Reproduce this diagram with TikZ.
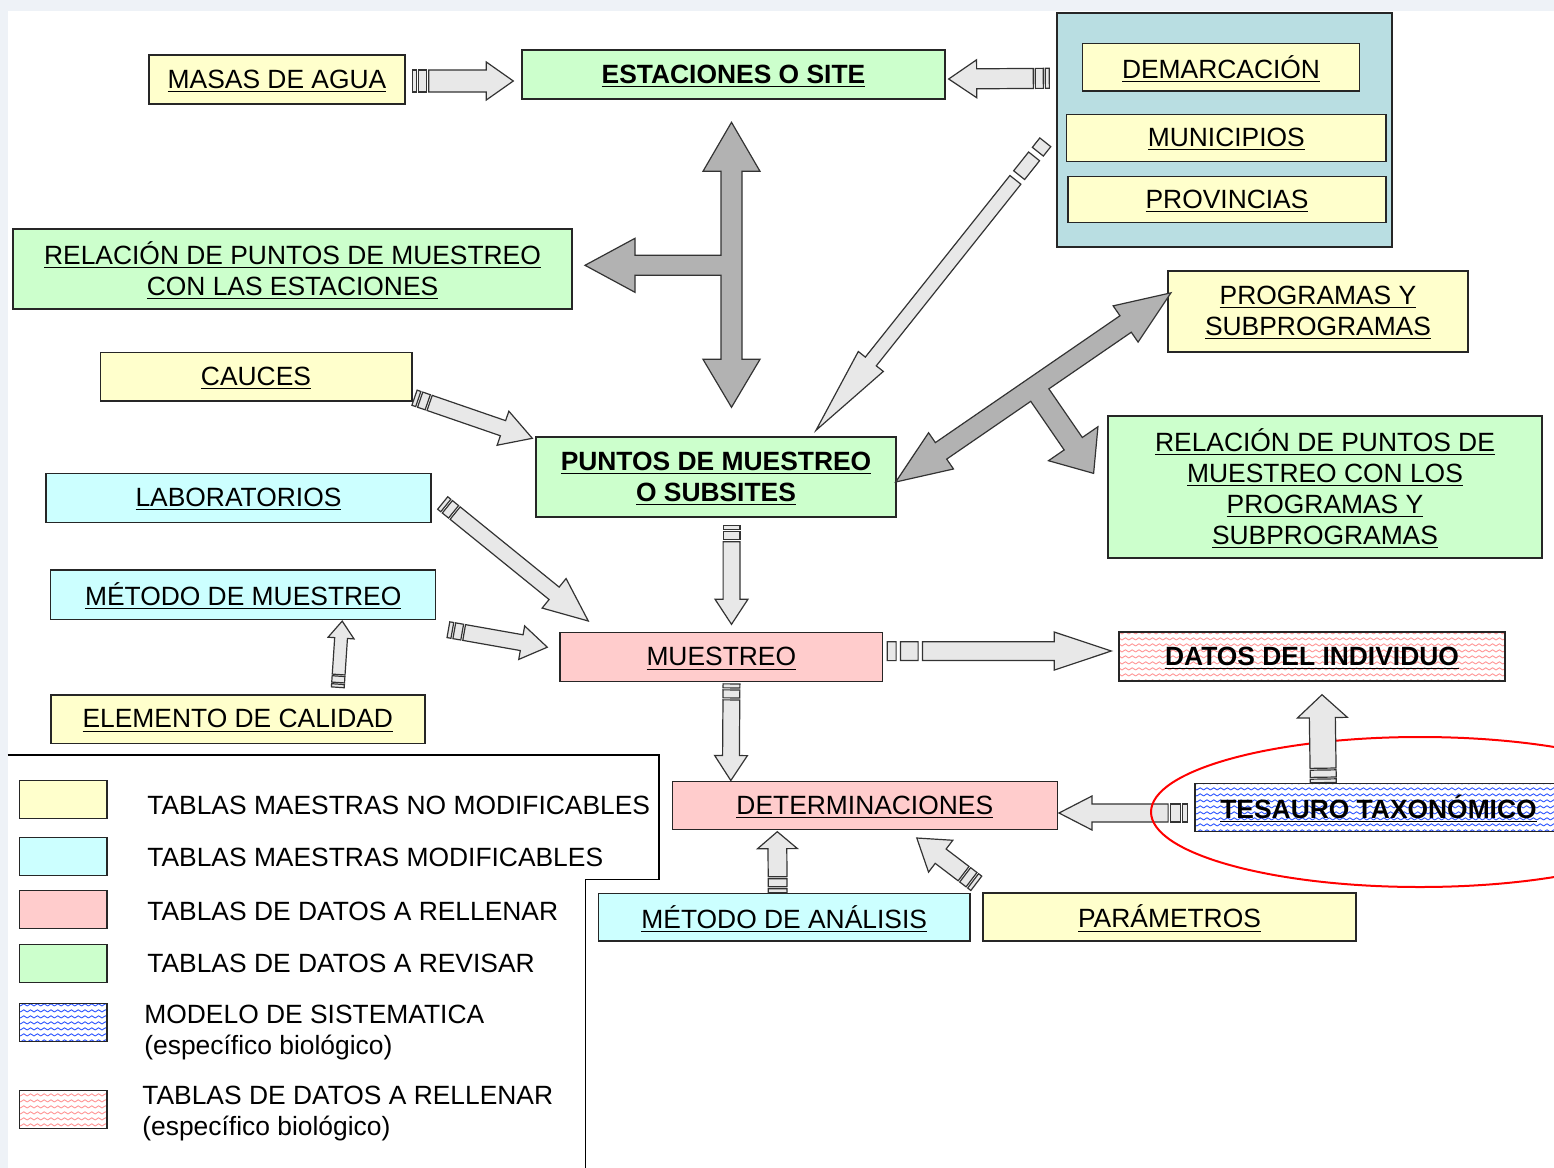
\documentclass[tikz,border=0pt]{standalone}
\usepackage{fontspec}
\setmainfont{Liberation Sans}
\usepackage{tikz}
\usetikzlibrary{calc,positioning,patterns}

\definecolor{amarillo}{RGB}{255,255,204}
\definecolor{verde}{RGB}{204,255,204}
\definecolor{celeste}{RGB}{204,255,255}
\definecolor{rosa}{RGB}{255,204,204}
\definecolor{turquesa}{RGB}{185,222,226}
\definecolor{gris}{RGB}{232,232,232}
\definecolor{grisosc}{RGB}{178,178,178}
\definecolor{fondo}{RGB}{238,242,247}
\definecolor{ondarosa}{RGB}{255,150,150}
\definecolor{ondaazul}{RGB}{45,85,255}

\pgfdeclarepatternformonly{ondas}{\pgfqpoint{-0.5pt}{-0.5pt}}{\pgfqpoint{3.9pt}{1.6pt}}{\pgfqpoint{3.4pt}{3pt}}{%
  \pgfsetlinewidth{0.45pt}
  \pgfpathmoveto{\pgfqpoint{0pt}{0pt}}
  \pgfpathlineto{\pgfqpoint{1.7pt}{1.1pt}}
  \pgfpathlineto{\pgfqpoint{3.4pt}{0pt}}
  \pgfusepath{stroke}}

\newcommand{\letra}{\fontsize{13.2}{15.5}\selectfont}
\newcommand{\campo}[1]{\raisebox{-0.8pt}[\height][\depth]{\underline{#1}}}

\tikzset{
  tabla/.style={draw=black!85, line width=0.7pt, inner sep=0pt, align=center, font=\letra},
  amarilla/.style={tabla, fill=amarillo},
  verdosa/.style={tabla, fill=verde},
  celestial/.style={tabla, fill=celeste},
  rosada/.style={tabla, fill=rosa},
  rayada/.style={tabla, pattern=ondas, pattern color=#1},
  leyenda/.style={inner sep=0pt, anchor=west, align=left, font=\letra},
  clara/.style={draw=black!80, fill=gris, line width=0.6pt},
  oscura/.style={draw=black!80, fill=grisosc, line width=0.6pt}
}

% [stripe scale] tail, tip, shaft half width, head half width, head length
\newcommand{\flecha}[6][1]{%
  \coordinate (fA) at (#2);
  \coordinate (fB) at (#3);
  \coordinate (f1) at ($(fA)!#1*2pt!(fB)$);
  \coordinate (f2) at ($(fA)!#1*3pt!(fB)$);
  \coordinate (f3) at ($(fA)!#1*7pt!(fB)$);
  \coordinate (f4) at ($(fA)!#1*8pt!(fB)$);
  \coordinate (fN) at ($(fB)!#6!(fA)$);
  \draw[clara] ($(fA)!#4!90:(fB)$) -- ($(f1)!#4!90:(fB)$) -- ($(f1)!#4!-90:(fB)$) -- ($(fA)!#4!-90:(fB)$) -- cycle;
  \draw[clara] ($(f2)!#4!90:(fB)$) -- ($(f3)!#4!90:(fB)$) -- ($(f3)!#4!-90:(fB)$) -- ($(f2)!#4!-90:(fB)$) -- cycle;
  \draw[clara] ($(f4)!#4!90:(fB)$) -- ($(fN)!#4!90:(fB)$) -- ($(fN)!#5!90:(fB)$) -- (fB)
    -- ($(fN)!#5!-90:(fB)$) -- ($(fN)!#4!-90:(fB)$) -- ($(f4)!#4!-90:(fB)$) -- cycle;
}

\begin{document}
\begin{tikzpicture}[x=0.5pt, y=-0.5pt]
\useasboundingbox (0,0) rectangle (1554,1168);
\clip (0,0) rectangle (1554,1168);
\fill[fondo] (0,0) rectangle (1554,1168);
\fill[white] (7.5,10.5) rectangle (1554,1168);

\node[amarilla, minimum width=128pt, minimum height=24.5pt] (masas) at (277,79.5) {\campo{MASAS DE AGUA}};
\node[verdosa, minimum width=211.5pt, minimum height=24.5pt, font=\letra\bfseries] (estaciones) at (733.5,74.5) {\campo{ESTACIONES O SITE}};
\node[tabla, fill=turquesa, minimum width=167.5pt, minimum height=117pt] (contenedor) at (1224.5,130) {};
\node[amarilla, minimum width=138.3pt, minimum height=23.9pt] (demarcacion) at (1221,67.2) {\campo{DEMARCACIÓN}};
\node[amarilla, minimum width=159.7pt, minimum height=23.7pt] (municipios) at (1226.3,138) {\campo{MUNICIPIOS}};
\node[amarilla, minimum width=159pt, minimum height=23pt] (provincias) at (1227,199.7) {\campo{PROVINCIAS}};
\node[verdosa, minimum width=279.5pt, minimum height=40pt] (relest) at (292.5,269) {\campo{RELACIÓN DE PUNTOS DE MUESTREO}\\\campo{CON LAS ESTACIONES}};
\node[amarilla, minimum width=150pt, minimum height=40.5pt] (programas) at (1318,311.5) {\campo{PROGRAMAS Y}\\\campo{SUBPROGRAMAS}};
\node[amarilla, minimum width=155.8pt, minimum height=24.3pt] (cauces) at (256,376.7) {\campo{CAUCES}};
\node[verdosa, minimum width=180pt, minimum height=40pt, font=\letra\bfseries] (puntos) at (716,477) {\campo{PUNTOS DE MUESTREO}\\\campo{O SUBSITES}};
\node[verdosa, minimum width=217pt, minimum height=71pt] (relprog) at (1325,487) {\campo{RELACIÓN DE PUNTOS DE}\\\campo{MUESTREO CON LOS}\\\campo{PROGRAMAS Y}\\\campo{SUBPROGRAMAS}};
\node[celestial, minimum width=192.5pt, minimum height=24.7pt] (laboratorios) at (238.5,498) {\campo{LABORATORIOS}};
\node[celestial, minimum width=192.5pt, minimum height=24.7pt] (metmuestreo) at (243.2,594.7) {\campo{MÉTODO DE MUESTREO}};
\node[amarilla, minimum width=187pt, minimum height=24.2pt] (elemento) at (237.8,719.2) {\campo{ELEMENTO DE CALIDAD}};
\node[rosada, minimum width=161.3pt, minimum height=24.5pt] (muestreo) at (721.3,657.2) {\campo{MUESTREO}};
\node[rayada=ondarosa, minimum width=193pt, minimum height=24.5pt, font=\letra\bfseries] (datos) at (1312,656.5) {\campo{DATOS DEL INDIVIDUO}};
\node[rosada, minimum width=192.5pt, minimum height=23.8pt] (determinaciones) at (864.8,805.5) {\campo{DETERMINACIONES}};
\node[rayada=ondaazul, minimum width=183.5pt, minimum height=24.2pt, font=\letra\bfseries] (tesauro) at (1378.5,807.5) {\campo{TESAURO TAXONÓMICO}};
\node[celestial, minimum width=185.8pt, minimum height=23.8pt] (metanalisis) at (784.2,917.2) {\campo{MÉTODO DE ANÁLISIS}};
\node[amarilla, minimum width=186.5pt, minimum height=24pt] (parametros) at (1169.5,917) {\campo{PARÁMETROS}};

\coordinate (cruz) at ($(puntos.north)+(15.5,-171)$);
\draw[oscura, shift={(cruz)}] (0,-143) -- (28.5,-94) -- (10.5,-94) -- (10.5,94) -- (28.5,94) -- (0,142) -- (-28.5,94) -- (-10.5,94) -- (-10.5,10) -- (-96.5,10) -- (-96.5,27) -- (-146.5,0) -- (-96.5,-27) -- (-96.5,-10) -- (-10.5,-10) -- (-10.5,-94) -- (-28.5,-94) -- cycle;
\coordinate (rama) at ($(puntos.east)+(-1,5)$);
\draw[oscura, shift={(rama)}, rotate=34.5] (0,0) -- (55,-22) -- (55,-10) -- (279,-10) -- (279,-22) -- (334,0) -- (279,22) -- (279,10) -- (179,10) -- (179,69) -- (198,69) -- (168,105) -- (138,69) -- (157,69) -- (157,10) -- (55,10) -- (55,22) -- cycle;

\flecha{$(masas.east)+(7,1.5)$}{$(estaciones.west)+(-8,6.5)$}{5.5pt}{9.5pt}{13.5pt}
\flecha{$(contenedor.north west)+(-7,66)$}{$(estaciones.east)+(3,4.5)$}{5pt}{9.5pt}{14pt}
\flecha[3]{$(contenedor.north west)+(-11,130)$}{$(puntos.north)+(100,-6)$}{3.5pt}{8pt}{44pt}
\flecha{$(cauces.south east)+(2,-4)$}{$(puntos.north west)+(-3,2)$}{4pt}{9pt}{15.5pt}
\flecha{$(laboratorios.east)+(11,5)$}{$(muestreo.north west)+(29,-11)$}{4pt}{9.5pt}{22pt}
\flecha{$(metmuestreo.east)+(12,35)$}{$(muestreo.west)+(-12,-10)$}{4pt}{8.5pt}{13pt}
\flecha[0.8]{$(elemento.north)+(100,-7)$}{$(metmuestreo.south)+(99,1)$}{3.2pt}{6.5pt}{8.5pt}
\flecha{$(puntos.south)+(15.5,8)$}{$(muestreo.north)+(10.2,-7.7)$}{4.2pt}{8.2pt}{12.5pt}
\flecha{$(muestreo.south)+(10.2,1.5)$}{$(determinaciones.north west)+(59.2,-0.5)$}{4.2pt}{8.2pt}{12.5pt}
\flecha[2.2]{$(muestreo.east)+(4,-6)$}{$(datos.west)+(-7,-5.5)$}{4.7pt}{9.5pt}{28.5pt}
\flecha[1.2]{$(tesauro.west)+(-7,5.5)$}{$(determinaciones.east)+(1,7.5)$}{4.5pt}{8.5pt}{16.5pt}
\flecha{$(metanalisis.north west)+(180,0)$}{$(determinaciones.south west)+(105.7,1.7)$}{4.7pt}{10pt}{8.5pt}
\flecha{$(parametros.north west)+(-6,-9)$}{$(determinaciones.south)+(52,8)$}{4.5pt}{10pt}{15pt}

\draw[red, line width=1pt] ($(tesauro.center)+(41.5,4.5)$) ellipse [x radius=134.5pt, y radius=37.5pt];
\flecha[0.9]{$(tesauro.north west)+(129,0)$}{$(datos.south)+(10,13)$}{6.5pt}{12.5pt}{11.5pt}

\draw[line width=0.6pt] (7.5,755) -- (659,755) -- (659,879.3) -- (585.4,879.3) -- (585.4,1170);
\node[amarilla, minimum width=43.75pt, minimum height=19pt] (l1) at (63.25,799.2) {};
\node[celestial, minimum width=43.75pt, minimum height=19pt] (l2) at (63.25,856.5) {};
\node[rosada, minimum width=43.75pt, minimum height=19pt] (l3) at (63.25,909.2) {};
\node[verdosa, minimum width=43.75pt, minimum height=19pt] (l4) at (63.25,963.2) {};
\node[rayada=ondaazul, minimum width=43.75pt, minimum height=19pt] (l5) at (63.25,1022.5) {};
\node[rayada=ondarosa, minimum width=43.75pt, minimum height=19pt] (l6) at (63.25,1109.2) {};
\node[leyenda] (t1) at (147,805) {TABLAS MAESTRAS NO MODIFICABLES};
\node[leyenda] (t2) at (147,857) {TABLAS MAESTRAS MODIFICABLES};
\node[leyenda] (t3) at (147,911.5) {TABLAS DE DATOS A RELLENAR};
\node[leyenda] (t4) at (147,963.5) {TABLAS DE DATOS A REVISAR};
\node[leyenda] (t5) at (144,1032.5) {MODELO DE SISTEMATICA\\(específico biológico)};
\node[leyenda] (t6) at (142,1114) {TABLAS DE DATOS A RELLENAR\\(específico biológico)};
\end{tikzpicture}
\end{document}
